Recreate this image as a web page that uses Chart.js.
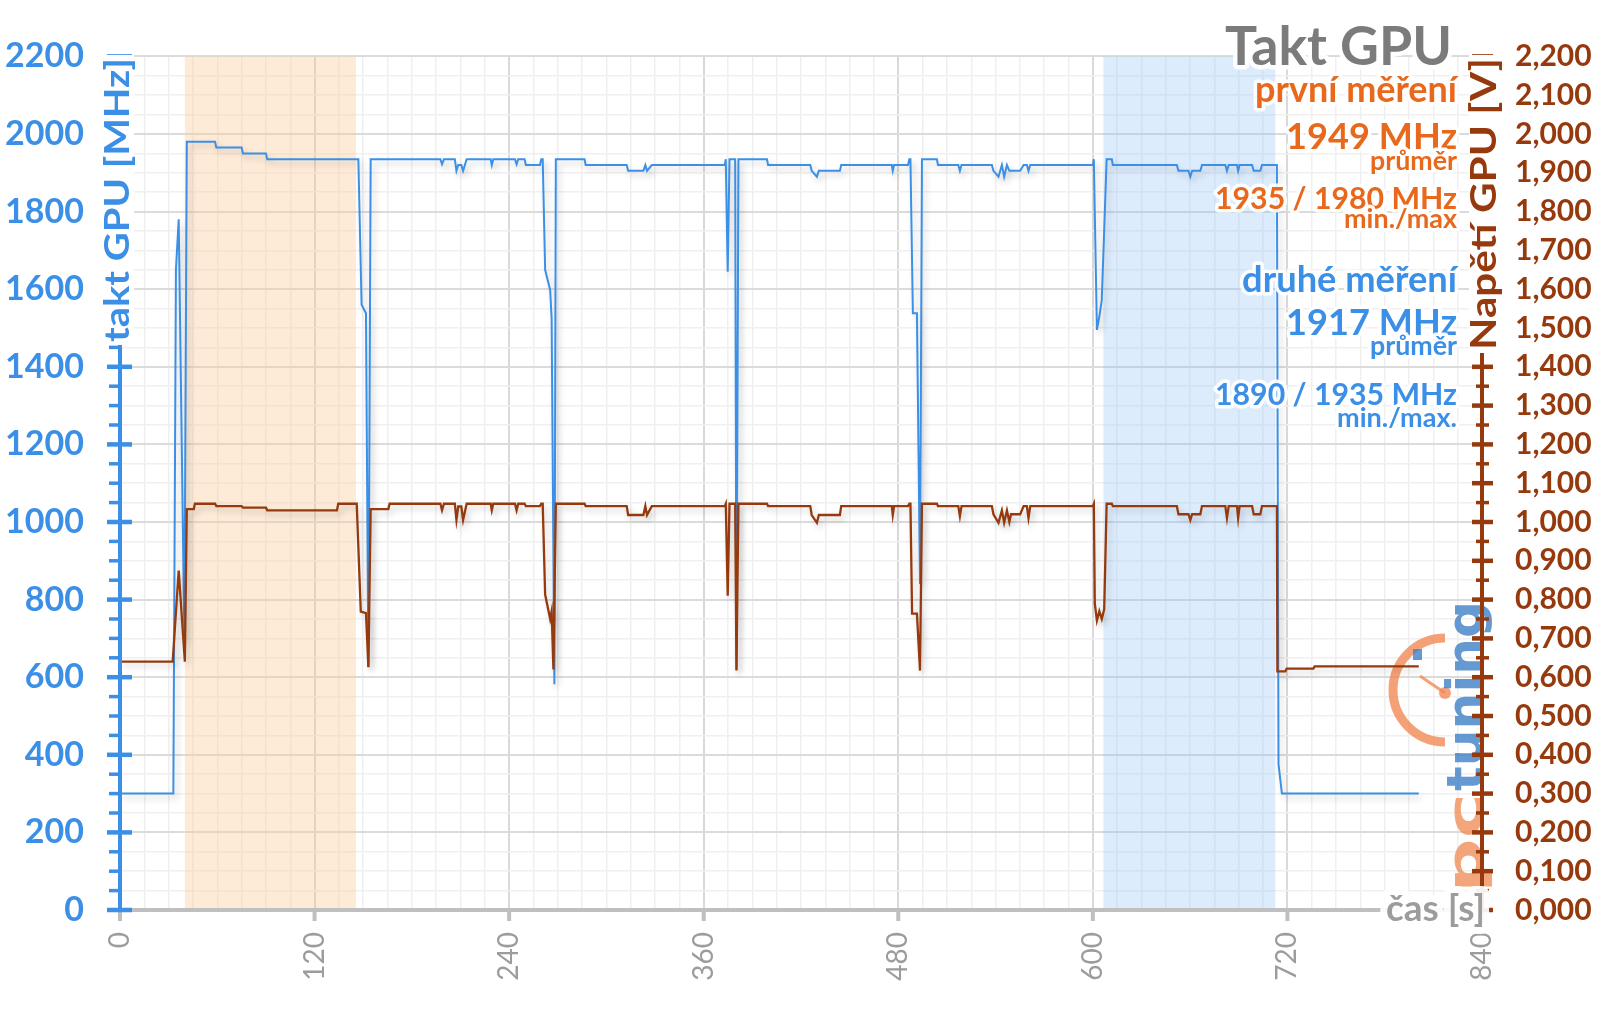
<!DOCTYPE html>
<html lang="cs">
<head>
<meta charset="utf-8">
<title>Takt GPU</title>
<script src="https://cdn.jsdelivr.net/npm/chart.js@4.4.1/dist/chart.umd.min.js"></script>
<style>
  html, body { margin: 0; padding: 0; background: #fff; }
  #obal { width: 1600px; height: 1009px; position: relative; }
</style>
</head>
<body>
<div id="obal"><canvas id="graf"></canvas></div>
<script>
// takt GPU (MHz) - casy v sekundach
const taktCas = [0, 32.9, 34.5, 36.2, 39.7, 41.2, 58.6, 59.4, 75, 75.8, 90, 90.8, 147, 149, 151.7, 153.2, 154.6,
  197.6, 198.6, 199.8, 206.5, 207.5, 208.6, 210.5, 211.6, 213.8, 228.6, 229.3, 230.2, 243.6, 244.6, 245.6,
  249.5, 250.3, 259, 259.8, 260.7, 262.2, 265.3, 266.2, 267.9, 268.8, 286.5, 287.2, 312.5, 313.4, 322.8,
  324, 325, 328, 373, 373.6, 374.8, 375.9, 379.4, 380.2, 381.4, 399, 399.7, 425.7, 426.6, 429.8, 431, 444,
  444.8, 476, 476.6, 477.4, 486, 486.8, 487.5, 489, 491.5, 493.4, 494.6, 503.8, 504.5, 517, 518, 519, 537.7,
  538.7, 541.8, 543.9, 545.3, 547, 548.5, 555.2, 557.3, 559.3, 560.3, 561.4, 600, 600.6, 602.5, 604, 605.5,
  608.5, 611.7, 612.3, 651.8, 652.8, 659, 660.1, 661.2, 666.3, 667.3, 681.7, 682.7, 683.8, 688.9, 689.6,
  690.5, 698.2, 699.2, 703.3, 704.3, 713.5, 714.5, 716.6, 801];
const taktMHz = [300, 300, 1650, 1780, 700, 1980, 1980, 1965, 1965, 1950, 1950, 1935, 1935, 1560, 1538, 626, 1935,
  1935, 1922, 1935, 1935, 1905, 1920, 1920, 1905, 1935, 1935, 1920, 1935, 1935, 1922, 1935,
  1935, 1920, 1920, 1935, 1935, 1650, 1598, 1525, 582, 1935, 1935, 1920, 1920, 1905, 1905,
  1920, 1905, 1920, 1920, 1935, 1645, 1935, 1935, 620, 1935, 1935, 1920, 1920, 1905, 1890, 1905, 1905,
  1920, 1920, 1905, 1920, 1920, 1935, 1935, 1538, 1538, 840, 1935, 1935, 1920, 1920, 1905, 1920, 1920,
  1905, 1890, 1920, 1890, 1920, 1905, 1905, 1920, 1920, 1905, 1920, 1920, 1935, 1495, 1530, 1572,
  1935, 1935, 1920, 1920, 1905, 1905, 1890, 1905, 1905, 1920, 1920, 1905, 1920, 1920, 1905,
  1920, 1920, 1905, 1905, 1920, 1920, 376, 300, 300];

// napeti GPU (V)
const napetiCas = [0, 32.5, 36.2, 40, 41.2, 45.5, 46.2, 58.6, 59.4, 75, 75.8, 90, 90.8, 133.8, 134.6, 146, 148.5,
  151.7, 153.2, 154.6, 165.5, 166.3, 197.6, 198.6, 199.8, 206.5, 207.5, 208.6, 210.5, 211.6, 213.8, 228.6,
  229.3, 230.2, 243.6, 244.6, 245.6, 249.5, 250.3, 259, 259.8, 260.7, 262.2, 265.3, 266.2, 267.3, 268.8,
  286.5, 287.2, 312.5, 313.4, 322.8, 324, 325, 328, 373, 373.6, 374.8, 375.9, 379.4, 380.2, 381.4, 399,
  399.7, 425.7, 426.6, 429.8, 431, 444, 444.8, 476, 476.6, 477.4, 486, 486.8, 487.5, 488.5, 491.5, 493.4,
  494.6, 503.8, 504.5, 517, 518, 519, 537.7, 538.7, 541.8, 543.9, 545.3, 547, 548.5, 549.5, 555.2, 557.3,
  559.3, 560.3, 561.4, 600, 600.6, 601.2, 602.5, 604, 605.5, 607, 608.5, 611.7, 612.3, 651.8, 652.8, 659,
  660.1, 661.2, 666.3, 667.3, 681.7, 682.7, 683.8, 688.9, 689.6, 690.5, 698.2, 699.2, 703.3, 704.3, 713.5,
  713.8, 718.7, 719.5, 736, 736.8, 801];
const napetiV = [0.64, 0.64, 0.875, 0.64, 1.033, 1.033, 1.047, 1.047, 1.041, 1.041, 1.037, 1.037, 1.03, 1.03, 1.047, 1.047, 0.769,
  0.765, 0.626, 1.033, 1.033, 1.047, 1.047, 1.03, 1.047, 1.047, 1.005, 1.04, 1.04, 1.005, 1.047, 1.047,
  1.03, 1.047, 1.047, 1.03, 1.047, 1.047, 1.041, 1.041, 1.047, 1.047, 0.813, 0.75, 0.77, 0.62, 1.047,
  1.047, 1.041, 1.041, 1.018, 1.018, 1.041, 1.018, 1.041, 1.041, 1.047, 0.81, 1.047, 1.047, 0.617, 1.047, 1.047,
  1.041, 1.041, 1.018, 0.998, 1.018, 1.018, 1.041, 1.041, 1.018, 1.041, 1.041, 1.047, 1.047, 0.764, 0.764, 0.617,
  1.047, 1.047, 1.041, 1.041, 1.015, 1.041, 1.041, 1.02, 0.998, 1.03, 0.998, 1.03, 1.0, 1.02, 1.02, 1.041,
  1.041, 1.01, 1.041, 1.041, 1.047, 0.79, 0.746, 0.77, 0.75, 0.775, 1.047, 1.047, 1.041, 1.041, 1.02, 1.02,
  1.005, 1.02, 1.02, 1.041, 1.041, 1.01, 1.041, 1.041, 1.01, 1.041, 1.041, 1.02, 1.02, 1.041, 1.041,
  0.615, 0.615, 0.622, 0.622, 0.628, 0.628];

// zvyraznene useky mereni (s)
const pasmoPrvni = [40, 145.5];
const pasmoDruhe = [606.5, 712.5];

const casPopisky = [0, 120, 240, 360, 480, 600, 720, 840];

const modra = '#3b8fe6';
const hneda = '#963a0e';
const oranzova = '#e8681c';
const seda = '#9c9c9c';

// texty vpravo nahore: text, barva, uctari, sirka
const popisky = [
  ['první měření', oranzova, 102, 202],
  ['1949 MHz', oranzova, 149, 171],
  ['průměr', oranzova, 170, 87],
  ['1935 / 1980 MHz', oranzova, 209, 242],
  ['min./max', oranzova, 228, 113],
  ['druhé měření', modra, 292, 215],
  ['1917 MHz', modra, 335, 171],
  ['průměr', modra, 355, 87],
  ['1890 / 1935 MHz', modra, 405, 242],
  ['min./max.', modra, 427, 120]
];

function velikostNaSirku(ctx, text, sirka) {
  ctx.font = 'bold 100px Lato';
  return 100 * sirka / ctx.measureText(text).width;
}

function textSHalo(ctx, text, x, y, barva, font, halo) {
  ctx.font = font;
  ctx.lineJoin = 'round';
  ctx.strokeStyle = 'rgba(255,255,255,0.92)';
  ctx.lineWidth = halo;
  ctx.strokeText(text, x, y);
  ctx.fillStyle = barva;
  ctx.fillText(text, x, y);
}

function svislyText(ctx, text, x, yStred, delka, barva, velikost) {
  // bile pozadi zakryje osu pod nazvem
  ctx.save();
  ctx.fillStyle = '#fff';
  ctx.fillRect(x - 15, yStred - delka / 2 - 3, 31, delka + 6);
  ctx.translate(x, yStred);
  ctx.rotate(-Math.PI / 2);
  ctx.font = 'bold ' + velikost + 'px Lato';
  const w = ctx.measureText(text).width;
  ctx.scale(delka / w, 1);
  ctx.textAlign = 'center';
  ctx.textBaseline = 'middle';
  ctx.fillStyle = barva;
  ctx.fillText(text, 0, 0);
  ctx.restore();
}

function nakresliLogo(ctx) {
  ctx.save();
  ctx.globalAlpha = 0.8;
  ctx.strokeStyle = '#f28a55';
  ctx.lineWidth = 9;
  ctx.beginPath();
  ctx.arc(1445, 690, 52, Math.PI * 0.5, Math.PI * 1.5);
  ctx.stroke();
  ctx.lineWidth = 3;
  ctx.beginPath();
  ctx.moveTo(1445, 693);
  ctx.lineTo(1420, 676);
  ctx.stroke();
  ctx.fillStyle = '#f28a55';
  ctx.beginPath();
  ctx.arc(1445, 693, 6, 0, Math.PI * 2);
  ctx.fill();
  ctx.fillStyle = '#3d7fc6';
  ctx.fillRect(1413, 649, 9, 11);

  ctx.translate(1482, 893);
  ctx.rotate(-Math.PI / 2);
  ctx.textAlign = 'left';
  ctx.textBaseline = 'alphabetic';
  ctx.font = 'bold 50px "DejaVu Sans"';
  let w = ctx.measureText('pc').width;
  ctx.save();
  ctx.scale(100 / w, 1);
  ctx.fillStyle = '#f0905a';
  ctx.fillText('pc', 0, 0);
  ctx.restore();
  w = ctx.measureText('tuning').width;
  ctx.translate(102, 0);
  ctx.scale(190 / w, 1);
  ctx.fillStyle = '#3d7fc6';
  ctx.fillText('tuning', 0, 0);
  ctx.restore();
}

const kresleni = {
  id: 'kresleni',
  beforeDatasetsDraw(chart) {
    const ctx = chart.ctx;
    const ca = chart.chartArea;
    const sx = chart.scales.x;
    ctx.save();
    ctx.fillStyle = 'rgba(250,200,150,0.38)';
    let x1 = sx.getPixelForValue(pasmoPrvni[0]);
    let x2 = sx.getPixelForValue(pasmoPrvni[1]);
    ctx.fillRect(x1, ca.top, x2 - x1, ca.bottom - ca.top);
    ctx.fillStyle = 'rgba(150,195,245,0.32)';
    x1 = sx.getPixelForValue(pasmoDruhe[0]);
    x2 = sx.getPixelForValue(pasmoDruhe[1]);
    ctx.fillRect(x1, ca.top, x2 - x1, ca.bottom - ca.top);
    ctx.restore();
    nakresliLogo(ctx);
  },
  beforeDatasetDraw(chart) {
    const ctx = chart.ctx;
    ctx.save();
    ctx.shadowColor = 'rgba(0,0,0,0.2)';
    ctx.shadowBlur = 6;
    ctx.shadowOffsetX = 3;
    ctx.shadowOffsetY = 4;
  },
  afterDatasetDraw(chart) {
    chart.ctx.restore();
  },
  afterDraw(chart) {
    const ctx = chart.ctx;
    const ca = chart.chartArea;
    const sx = chart.scales.x, sl = chart.scales.yMHz, sr = chart.scales.yV;
    ctx.save();
    ctx.lineCap = 'butt';

    // osa x
    ctx.strokeStyle = '#bfbfbf';
    ctx.lineWidth = 4;
    ctx.beginPath();
    ctx.moveTo(ca.left - 2, ca.bottom);
    ctx.lineTo(ca.right, ca.bottom);
    ctx.stroke();
    casPopisky.forEach(v => {
      const x = sx.getPixelForValue(v);
      ctx.beginPath();
      ctx.moveTo(x, ca.bottom);
      ctx.lineTo(x, ca.bottom + 11);
      ctx.stroke();
    });

    // leva osa
    ctx.strokeStyle = modra;
    ctx.beginPath();
    ctx.moveTo(ca.left, ca.bottom + 2);
    ctx.lineTo(ca.left, ca.top);
    ctx.stroke();
    for (let v = 0; v <= 2200; v += 50) {
      const y = sl.getPixelForValue(v);
      ctx.lineWidth = v % 200 === 0 ? 4.5 : 3.5;
      ctx.beginPath();
      if (v % 200 === 0) { ctx.moveTo(ca.left - 13, y); ctx.lineTo(ca.left + 12, y); }
      else { ctx.moveTo(ca.left - 11, y); ctx.lineTo(ca.left, y); }
      ctx.stroke();
    }

    // prava osa
    ctx.strokeStyle = hneda;
    ctx.lineWidth = 4;
    ctx.beginPath();
    ctx.moveTo(ca.right, ca.bottom);
    ctx.lineTo(ca.right, ca.top);
    ctx.stroke();
    for (let i = 0; i <= 44; i++) {
      const y = sr.getPixelForValue(i * 0.05);
      ctx.lineWidth = i % 2 === 0 ? 4.5 : 3.5;
      ctx.beginPath();
      if (i % 2 === 0) { ctx.moveTo(ca.right - 10, y); ctx.lineTo(ca.right + 11, y); }
      else { ctx.moveTo(ca.right - 6, y); ctx.lineTo(ca.right + 7, y); }
      ctx.stroke();
    }

    // nazvy os
    svislyText(ctx, 'takt GPU [MHz]', 118, 200, 284, modra, 34);
    svislyText(ctx, 'Napětí GPU [V]', 1484, 204, 292, hneda, 36);

    ctx.textAlign = 'right';
    ctx.textBaseline = 'alphabetic';
    let s = velikostNaSirku(ctx, 'čas [s]', 99);
    textSHalo(ctx, 'čas [s]', 1485, 921, seda, 'bold ' + s + 'px Lato', 14);

    s = velikostNaSirku(ctx, 'Takt GPU', 227);
    textSHalo(ctx, 'Takt GPU', 1452, 65, '#7b7b7b', 'bold ' + s + 'px Lato', 9);

    popisky.forEach(p => {
      const vel = velikostNaSirku(ctx, p[0], p[3]);
      textSHalo(ctx, p[0], 1457, p[2], p[1], 'bold ' + vel + 'px Lato', 7);
    });
    ctx.restore();
  }
};

const mrizkaX = c => (c.tick && c.tick.value % 120 === 0) ? '#d9d9d9' : '#efefef';
const mrizkaY = c => (c.tick && c.tick.value % 200 === 0) ? '#dbdbdb' : '#f0f0f0';

new Chart(document.getElementById('graf'), {
  type: 'line',
  data: {
    datasets: [
      {
        label: 'Napětí GPU [V]',
        data: napetiCas.map((t, i) => ({ x: t, y: napetiV[i] })),
        yAxisID: 'yV',
        borderColor: hneda,
        borderWidth: 2.3,
        pointRadius: 0,
        tension: 0,
        fill: false
      },
      {
        label: 'takt GPU [MHz]',
        data: taktCas.map((t, i) => ({ x: t, y: taktMHz[i] })),
        yAxisID: 'yMHz',
        borderColor: modra,
        borderWidth: 2,
        pointRadius: 0,
        tension: 0,
        fill: false
      }
    ]
  },
  options: {
    responsive: true,
    maintainAspectRatio: false,
    animation: false,
    layout: { padding: { top: 53, left: 0, right: 0, bottom: 0 } },
    plugins: { legend: { display: false }, tooltip: { enabled: false } },
    scales: {
      x: {
        type: 'linear',
        min: 0,
        max: 840,
        afterFit: s => { s.height = 99; },
        ticks: {
          stepSize: 15,
          autoSkip: false,
          minRotation: 90,
          maxRotation: 90,
          padding: 22,
          color: seda,
          font: { family: 'Lato', size: 28 },
          callback: v => casPopisky.includes(v) ? String(v) : ''
        },
        grid: {
          drawTicks: false,
          color: mrizkaX,
          lineWidth: c => (c.tick && c.tick.value % 120 === 0) ? 2 : 1.5
        },
        border: { display: false }
      },
      yMHz: {
        position: 'left',
        min: 0,
        max: 2200,
        afterFit: s => { s.width = 120; },
        ticks: {
          stepSize: 50,
          autoSkip: false,
          padding: 36,
          color: modra,
          font: { family: 'Lato', size: 34, weight: 'bold' },
          callback: v => v % 200 === 0 ? String(v) : ''
        },
        grid: {
          drawTicks: false,
          color: mrizkaY,
          lineWidth: c => (c.tick && c.tick.value % 200 === 0) ? 2 : 1.5
        },
        border: { display: false }
      },
      yV: {
        position: 'right',
        min: 0,
        max: 2.2,
        afterFit: s => { s.width = 118; },
        ticks: {
          stepSize: 0.1,
          autoSkip: false,
          padding: 33,
          color: hneda,
          font: { family: 'Lato', size: 30, weight: 'bold' },
          callback: v => v.toFixed(3).replace('.', ',')
        },
        grid: { drawOnChartArea: false, drawTicks: false },
        border: { display: false }
      }
    }
  },
  plugins: [kresleni]
});
</script>
</body>
</html>
